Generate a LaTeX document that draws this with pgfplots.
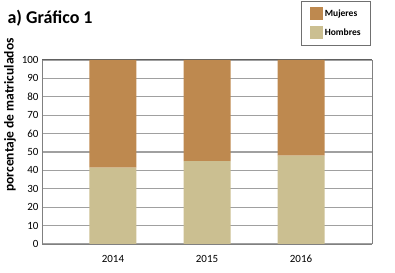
\documentclass[border=0pt]{standalone}
\usepackage{pgfplots}
\pgfplotsset{compat=1.18}
\usepackage{fontspec}
\setmainfont{Carlito}
\definecolor{muj}{HTML}{BE894F}
\definecolor{hom}{HTML}{CBBF91}
\definecolor{gridc}{HTML}{A0A0A0}
\begin{document}
\begin{tikzpicture}
\useasboundingbox (-42bp,-29bp) rectangle (353bp,244bp);
\begin{axis}[
  at={(0,0)}, anchor=south west,
  scale only axis, width=330bp, height=184bp,
  ybar stacked, bar width=47bp,
  xmin=-0.755, xmax=2.755, ymin=0, ymax=100,
  xtick={0,1,2}, xticklabels={2014,2015,2016},
  ytick={0,10,...,100},
  major tick length=0pt,
  ymajorgrids, grid style={gridc, line width=1.2bp},
  axis line style={draw=gridc!80!black, line width=0.8bp},
  axis x line*=bottom,
  tick label style={font=\fontsize{11bp}{12bp}\selectfont, black},
  /pgf/number format/assume math mode=true,
  xticklabel style={yshift=-8bp},
  legend style={at={(rel axis cs:0.997,1.323)}, anchor=north east,
    draw=gridc!70!black, line width=0.8bp, font=\bfseries\fontsize{9.5bp}{10bp}\selectfont,
    inner xsep=8bp, inner ysep=6bp, row sep=6bp, cells={anchor=west}},
  legend image code/.code={\fill[#1, draw=none] (0bp,-6.5bp) rectangle (13bp,6.5bp);},
  reverse legend,
]
\addplot+[fill=hom, draw=none] coordinates {(0,41.5) (1,45) (2,48)};
\addlegendentry{Hombres}
\addplot+[fill=muj, draw=none] coordinates {(0,58.5) (1,55) (2,52)};
\addlegendentry{Mujeres}
\draw[gridc!80!black, line width=0.8bp] (rel axis cs:1,0) -- (rel axis cs:1,1);
\draw[gridc!60!black, line width=1bp] (rel axis cs:0,1) -- (rel axis cs:1,1);
\end{axis}
\node[anchor=base west, font=\bfseries\fontsize{18bp}{21bp}\selectfont] at (-38bp,220.5bp) {a) Gráfico 1};
\node[rotate=90, font=\bfseries\fontsize{13.5bp}{15bp}\selectfont] at (-32bp,129bp) {porcentaje de matriculados};
\end{tikzpicture}
\end{document}
